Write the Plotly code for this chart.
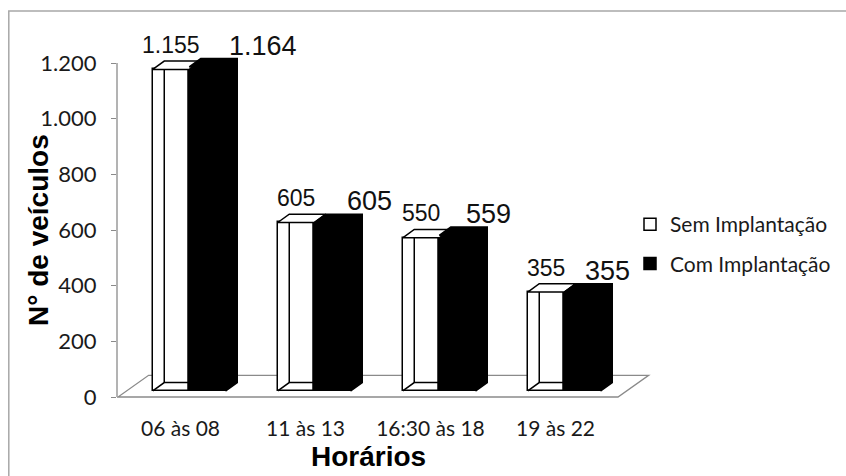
import plotly.graph_objects as go

# ---------------- data ----------------
categories = ["06 às 08", "11 às 13", "16:30 às 18", "19 às 22"]
sem_implantacao = [1155, 605, 550, 355]
com_implantacao = [1164, 605, 559, 355]
y_tick_values = [0, 200, 400, 600, 800, 1000, 1200]
series_names = ["Sem Implantação", "Com Implantação"]

# ---------------- layout geometry (styles) ----------------
OFF = 0                      # page body margin removed via post_script
W, H = 846, 476
L, R, T, B = 117, 194, 35, 78
plot_w = W - L - R
plot_h = H - T - B
PX_PER_CAT = 125.0
k = 334.0 / 1200.0           # px per value unit
x_lo = -((118 - OFF) - L) / PX_PER_CAT
x_hi = x_lo + plot_w / PX_PER_CAT
zero_px = 397.0 - OFF
y_lo = -((H - B) - zero_px) / k
y_hi = y_lo + plot_h / k


def px_x(sx):   # screen px -> paper x
    return (sx - OFF - L) / plot_w


def px_y(sy):   # screen px -> paper y
    return ((H - B) - (sy - OFF)) / plot_h


BASE = 22.0      # bar base lift (3D floor inset)
BW = 0.292       # bar width in category units
WOFF = 0.278     # white bar left offset in category
DX = 0.092       # depth offset x (category units)
DY = 30.0        # depth offset y (value units)
FDX = 0.245      # floor depth x
FDY = 78.0       # floor depth y
GRAY = "#8a8a8a"
TXT = "#1a1a1a"
n = len(categories)

fig = go.Figure()

# front faces
xw = [i + WOFF + BW / 2 for i in range(n)]
xb = [i + WOFF + BW + BW / 2 for i in range(n)]
fig.add_trace(go.Bar(x=xw, y=sem_implantacao, base=BASE, width=BW, name=series_names[0],
                     marker=dict(color="white", line=dict(color="black", width=1.5)),
                     legendgroup="a", hoverinfo="skip"))
fig.add_trace(go.Bar(x=xb, y=com_implantacao, base=BASE, width=BW, name=series_names[1],
                     marker=dict(color="black", line=dict(color="black", width=1.5)),
                     legendgroup="b", hoverinfo="skip"))

# white bars: top faces and visible back edges
tx, ty, ex, ey = [], [], [], []
for i, v in enumerate(sem_implantacao):
    xl = i + WOFF
    xr = xl + BW
    top = BASE + v
    tx += [xl, xr, xr + DX, xl + DX, xl, None]
    ty += [top, top, top + DY, top + DY, top, None]
    ex += [xl + DX, xl + DX, None, xl, xl + DX, xr + DX, None]
    ey += [top + DY, BASE + DY, None, BASE, BASE + DY, BASE + DY, None]
fig.add_trace(go.Scatter(x=ex, y=ey, mode="lines", line=dict(color="black", width=1.5),
                         showlegend=False, hoverinfo="skip"))
fig.add_trace(go.Scatter(x=tx, y=ty, mode="lines", fill="toself", fillcolor="white",
                         line=dict(color="black", width=1.5), showlegend=False, hoverinfo="skip"))

# black bars: side + top as one outline
bx, by = [], []
for i, v in enumerate(com_implantacao):
    xl = i + WOFF + BW
    xr = xl + BW
    top = BASE + v
    bx += [xl, xr, xr, xr + DX, xr + DX, xl + DX, xl, xl, None]
    by += [top, top, BASE, BASE + DY, top + DY, top + DY, top, top, None]
fig.add_trace(go.Scatter(x=bx, y=by, mode="lines", fill="toself", fillcolor="black",
                         line=dict(color="black", width=1.5), showlegend=False, hoverinfo="skip"))

# floor (layout shape, below traces), value axis line, outer frame
floor_path = f"M 0,0 L {n},0 L {n + FDX},{FDY} L {FDX},{FDY} Z"
shapes = [
    dict(type="path", path=floor_path, xref="x", yref="y", layer="below",
         line=dict(color=GRAY, width=1.3)),
    dict(type="line", xref="paper", yref="y", x0=0, x1=0, y0=0, y1=max(y_tick_values),
         line=dict(color=GRAY, width=1.3)),
    dict(type="rect", xref="paper", yref="paper",
         x0=px_x(8.8), x1=px_x(880), y0=px_y(500), y1=px_y(11),
         line=dict(color="#a8a8a8", width=1.5)),
]

# data labels and titles
LAB_FONT = "Liberation Sans, Arial"
annotations = []
for i, v in enumerate(sem_implantacao):
    annotations.append(dict(x=i + 0.42, y=BASE + v + DY, text=f"{v:,}".replace(",", "."),
                            showarrow=False, xanchor="center", yanchor="middle", yshift=16,
                            font=dict(family=LAB_FONT, size=23, color="#111")))
for i, v in enumerate(com_implantacao):
    annotations.append(dict(x=i + 0.87 - 0.051 * i, y=BASE + v + DY, text=f"{v:,}".replace(",", "."),
                            showarrow=False, xanchor="left", yanchor="middle", yshift=13,
                            font=dict(family=LAB_FONT, size=27, color="#111")))
annotations.append(dict(x=n / 2, xref="x", y=px_y(456), yref="paper", text="<b>Horários</b>",
                        showarrow=False, xanchor="center", yanchor="middle",
                        font=dict(family=LAB_FONT, size=28, color="black")))
annotations.append(dict(x=px_x(38), xref="paper", y=px_y(230), yref="paper",
                        text="<b>N° de veículos</b>", textangle=-90,
                        showarrow=False, xanchor="center", yanchor="middle",
                        font=dict(family=LAB_FONT, size=28, color="black")))

fig.update_layout(
    width=W, height=H,
    margin=dict(l=L, r=R, t=T, b=B, autoexpand=False),
    paper_bgcolor="white", plot_bgcolor="white",
    barmode="overlay", bargap=0,
    separators=",.",
    showlegend=True,
    legend=dict(x=px_x(630), xanchor="left", y=px_y(244), yanchor="middle",
                font=dict(family="Lato", size=21, color=TXT),
                bgcolor="rgba(0,0,0,0)", tracegroupgap=9, traceorder="grouped"),
    xaxis=dict(range=[x_lo, x_hi], tickvals=[i + 0.5 for i in range(n)], ticktext=categories,
               ticks="", showgrid=False, zeroline=False, showline=False,
               tickfont=dict(family="Lato", size=21, color=TXT), ticklabelstandoff=16),
    xaxis2=dict(range=[x_lo, x_hi], overlaying="x", anchor="y", side="bottom",
                tickvals=list(range(n + 1)), ticks="outside", ticklen=8, tickcolor=GRAY,
                tickwidth=1.3, showticklabels=False, showgrid=False, zeroline=False, showline=False),
    yaxis=dict(range=[y_lo, y_hi], tickvals=y_tick_values, tickformat=",d",
               ticks="outside", ticklen=5, tickcolor=GRAY, tickwidth=1.3,
               showgrid=False, zeroline=False, showline=False, ticklabelstandoff=10,
               tickfont=dict(family="Lato", size=22, color=TXT)),
    shapes=shapes,
    annotations=annotations,
)

fig.write_html("out.html",
               config={"displayModeBar": False},
               post_script="document.body.style.margin='0';document.body.style.overflow='hidden';")
